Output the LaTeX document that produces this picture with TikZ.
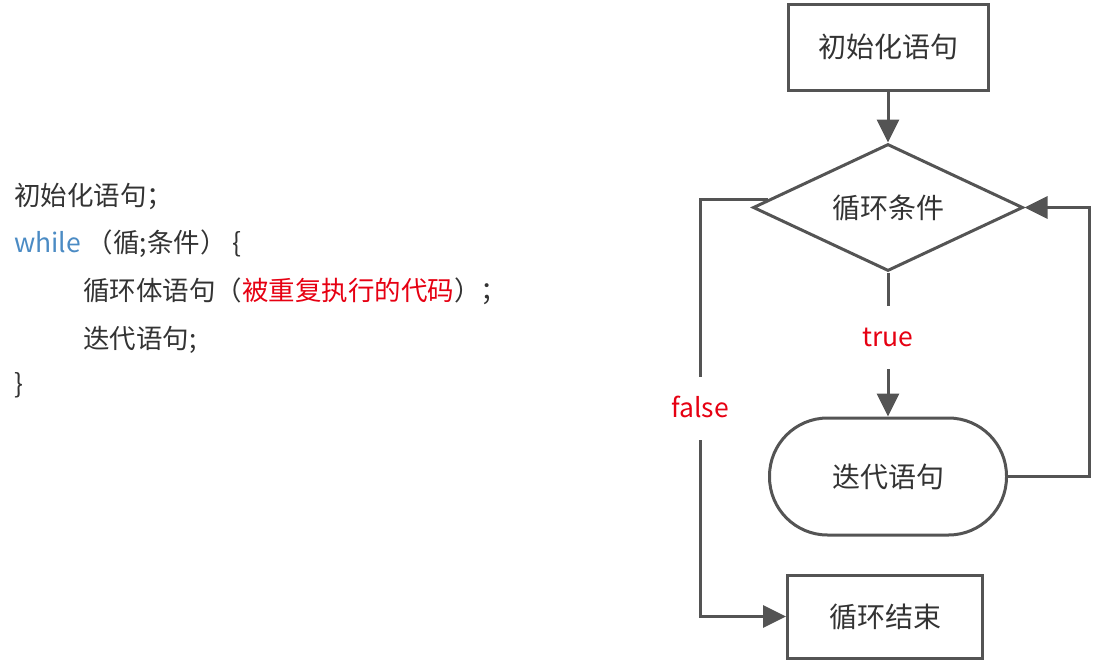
\documentclass[tikz,border=0pt]{standalone}
\usepackage{fontspec}
\setmainfont{Noto Sans CJK SC}
\usetikzlibrary{arrows.meta,positioning,shapes.geometric,calc}
\definecolor{flowLine}{HTML}{545454}
\definecolor{boxText}{HTML}{333333}
\definecolor{codeText}{HTML}{333333}
\definecolor{keyBlue}{HTML}{4B8BC4}
\definecolor{markRed}{HTML}{E60012}

\begin{document}
\begin{tikzpicture}[
  x=1pt, y=-1pt,
  code/.style={anchor=base west, inner sep=0pt, text=codeText,
    font=\fontsize{26.5pt}{30pt}\selectfont},
  box/.style={
    rectangle, draw=flowLine, line width=3pt,
    inner sep=0pt, text=boxText,
    font=\fontsize{28pt}{32pt}\selectfont
  },
  stepbox/.style={box, minimum width=200pt, minimum height=86pt},
  condbox/.style={box, diamond, aspect=2.3, minimum width=270pt, minimum height=127pt},
  iterbox/.style={box, rounded corners=58pt, minimum width=237pt, minimum height=117pt},
  endbox/.style={box, minimum width=195pt, minimum height=83pt},
  lbl/.style={fill=white, text=markRed, inner xsep=2pt, inner ysep=22pt,
    text height=19pt, text depth=0pt,
    font=\fontsize{26.5pt}{30pt}\selectfont},
  flow/.style={-{Triangle[length=23pt,width=22pt]}, line width=3pt, draw=flowLine}
]
\useasboundingbox (0,0) rectangle (1096,664);

%  Code on the left
\node[code] (line1) at (14,205) {初始化语句；};
\node[code] (line2) at (14,252) {\textcolor{keyBlue}{while} （循;条件） \{};
\node[code] (line3) at (83,300) {循环体语句（\textcolor{markRed}{被重复执行的代码}）；};
\node[code] (line4) at (83,348) {迭代语句;};
\node[code] (line5) at (14,393) {\}};

%  Flow chart
\node[stepbox] (init) at (888,47) {初始化语句};
\node[condbox, below=51pt of init] (cond) {循环条件};
\node[iterbox, below=144pt of cond] (iter) {迭代语句};
\node[endbox, below=37pt of iter, xshift=-3pt] (done) {循环结束};

\coordinate (falsex) at (700,0);

%  Connectors
\draw[flow] (init) -- (cond);
\draw[flow] (cond) -- node[lbl, pos=0.45] {true} (iter);
\draw[flow] (iter.east) -- ++(81,0) |- (cond.east);
\draw[flow] ($(cond.west)!0.12!(cond.north)$) coordinate (fstart)
  -- (fstart -| falsex) |- node[lbl, pos=0.25] {false} (done.west);

\end{tikzpicture}
\end{document}
